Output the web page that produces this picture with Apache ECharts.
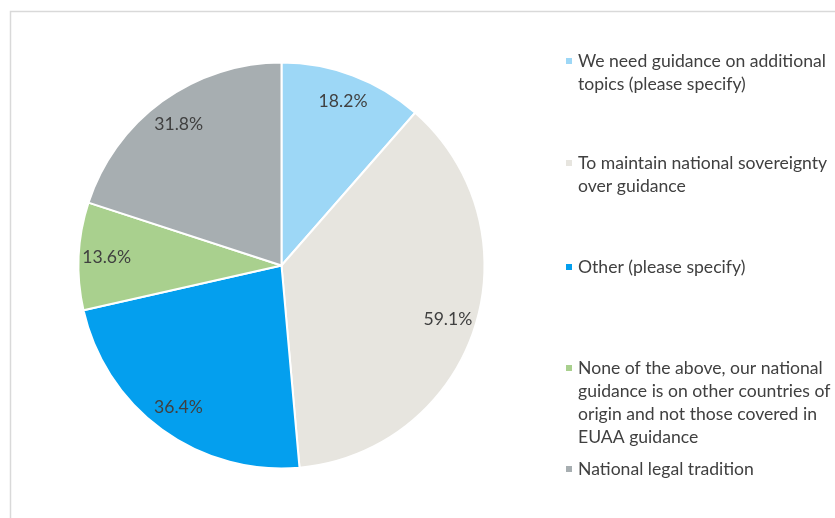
<!DOCTYPE html>
<html>
<head>
<meta charset="utf-8">
<style>
  html, body { margin: 0; padding: 0; background: #ffffff; }
  #chart { width: 835px; height: 518px; }
</style>
<script src="https://cdn.jsdelivr.net/npm/echarts@6/dist/echarts.min.js"></script>
</head>
<body>
<div id="chart"></div>
<script>
// Reasons for relying on national guidance (share of respondents, %)
const categories = [
  'We need guidance on additional topics (please specify)',
  'To maintain national sovereignty over guidance',
  'Other (please specify)',
  'None of the above, our national guidance is on other countries of origin and not those covered in EUAA guidance',
  'National legal tradition'
];
const values = [18.2, 59.1, 36.4, 13.6, 31.8];
const legendText = [
  'We need guidance on additional\ntopics (please specify)',
  'To maintain national sovereignty\nover guidance',
  'Other (please specify)',
  'None of the above, our national\nguidance is on other countries of\norigin and not those covered in\nEUAA guidance',
  'National legal tradition'
];
const colors = ['#9dd7f6', '#e7e5df', '#049fee', '#a9d08e', '#a7aeb1'];

const FONT = 'Lato, "Open Sans", sans-serif';
const TEXT = '#404040';
const FS = 17.6;
const LH = 23;                       // legend line height
const legendFirstLine = [61, 163, 267, 368, 469];  // centre of each entry's first line

const data = categories.map((name, i) => ({
  name: name,
  value: values[i],
  itemStyle: { color: colors[i] }
}));

// One legend block per entry. The text is centred on the marker, so blank
// lines are prepended to keep the marker level with the first text line.
const legends = categories.map((name, i) => {
  const lines = legendText[i].split('\n').length;
  return {
    orient: 'vertical',
    left: 564,
    top: legendFirstLine[i] - (2 * lines - 1) * LH / 2,
    padding: 0,
    itemWidth: 8,
    itemHeight: 8,
    icon: 'rect',
    data: [name],
    formatter: () => '\n'.repeat(lines - 1) + legendText[i],
    textStyle: {
      fontFamily: FONT,
      fontSize: FS,
      color: TEXT,
      lineHeight: LH
    }
  };
});

const chart = echarts.init(document.getElementById('chart'), null, { renderer: 'canvas' });
chart.setOption({
  backgroundColor: '#ffffff',
  animation: false,
  graphic: [{
    type: 'rect',
    left: 8, top: 9,
    shape: { width: 900, height: 600 },
    style: { fill: 'none', stroke: '#d9d9d9', lineWidth: 1.5 },
    silent: true
  }],
  legend: legends,
  series: [
    {
      name: 'slices',
      type: 'pie',
      center: [281.5, 265.5],
      radius: [0, 203],
      startAngle: 90,
      clockwise: true,
      avoidLabelOverlap: false,
      itemStyle: { borderColor: '#ffffff', borderWidth: 2 },
      label: { show: false },
      labelLine: { show: false },
      emphasis: { disabled: true },
      data: data
    },
    {
      // label ring: places the value labels near the rim of each slice
      name: 'labels',
      type: 'pie',
      center: [281.5, 265.5],
      radius: [138, 206],
      startAngle: 90,
      clockwise: true,
      silent: true,
      avoidLabelOverlap: false,
      itemStyle: { color: 'rgba(0,0,0,0)', borderWidth: 0 },
      label: {
        show: true,
        position: 'inside',
        formatter: p => p.value.toFixed(1) + '%',
        fontFamily: FONT,
        fontSize: FS,
        color: TEXT
      },
      labelLine: { show: false },
      emphasis: { disabled: true },
      data: categories.map((name, i) => ({ name: name, value: values[i] }))
    }
  ]
});
</script>
</body>
</html>
